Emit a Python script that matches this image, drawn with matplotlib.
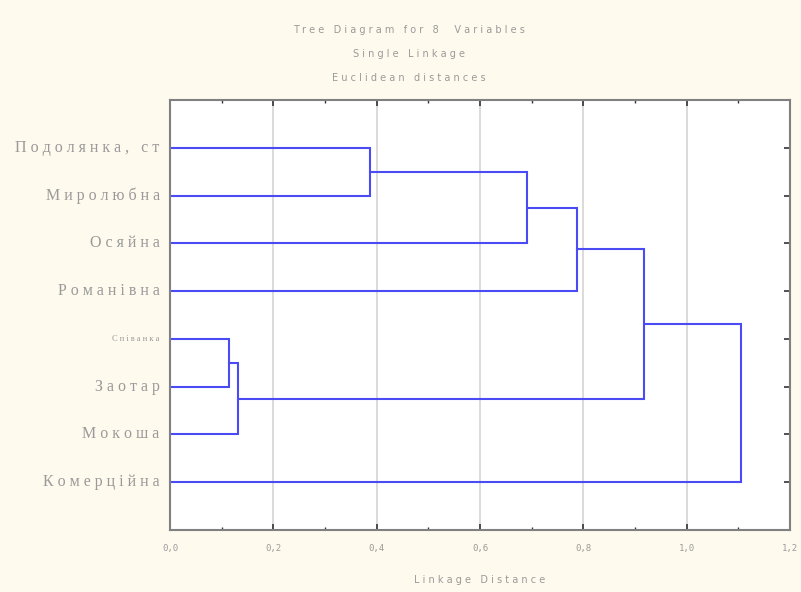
import matplotlib
matplotlib.use("Agg")
import matplotlib.pyplot as plt
from matplotlib.ticker import MultipleLocator

# leaves, top to bottom
labels = ["Подолянка, ст", "Миролюбна", "Осяйна", "Романівна",
          "Співанка", "Заотар", "Мокоша", "Комерційна"]
# merges: (cluster a, cluster b, linkage distance); new clusters numbered 8, 9, ...
merge_a = [0, 4, 8, 9, 10, 12, 13]
merge_b = [1, 5, 2, 6, 3, 11, 7]
merge_h = [0.388, 0.115, 0.692, 0.131, 0.788, 0.917, 1.106]

titles = ["Tree Diagram for 8  Variables", "Single Linkage", "Euclidean distances"]
xlabel = "Linkage Distance"


def spaced(s, sep=" "):
    return sep.join(s)


BG = "#fffaee"
BLUE = "#4b4bf5"
GREY = "#9a9a9a"

fig = plt.figure(figsize=(8.01, 5.92), dpi=100, facecolor=BG)
ax = fig.add_axes([0.2122, 0.1047, 0.7740, 0.7263])
ax.set_facecolor("white")

# cluster positions (y) and heights (x)
pos = {i: i + 1 for i in range(len(labels))}
hgt = {i: 0.0 for i in range(len(labels))}
for k, (a, b, h) in enumerate(zip(merge_a, merge_b, merge_h)):
    new = len(labels) + k
    ax.plot([hgt[a], h, h, hgt[b]], [pos[a], pos[a], pos[b], pos[b]],
            color=BLUE, lw=1.5, solid_joinstyle="miter")
    pos[new] = (pos[a] + pos[b]) / 2
    hgt[new] = h

ax.set_xlim(0, 1.2)
ax.set_ylim(9, 0)
ax.xaxis.set_major_locator(MultipleLocator(0.2))
ax.xaxis.set_minor_locator(MultipleLocator(0.1))
ax.set_yticks(range(1, len(labels) + 1))
ax.set_yticklabels([])
ax.grid(True, axis="x", color="#d4d4d4", lw=1.2)
ax.set_axisbelow(True)

for s in ax.spines.values():
    s.set_color("#808080")
    s.set_linewidth(1.5)

ax.tick_params(which="both", direction="in", top=True, right=True,
               color="#333333", labelcolor=GREY)
ax.tick_params(which="major", length=4, width=1.2)
ax.tick_params(which="minor", length=2, width=1)
ax.set_xticks([i * 0.2 for i in range(7)])
ax.set_xticklabels([f"{i * 0.2:.1f}".replace(".", ",") for i in range(7)],
                   fontsize=6.5, fontfamily="DejaVu Sans Mono")
ax.tick_params(axis="x", pad=10)

for i, lab in enumerate(labels):
    small = lab == "Співанка"
    ax.text(-0.02, i + 1, spaced(lab),
            ha="right", va="center", color=GREY,
            fontsize=6 if small else 11.5, fontfamily="Liberation Serif",
            transform=ax.transData, clip_on=False)

ax.set_xlabel(spaced(xlabel), fontsize=7, color=GREY, labelpad=16)

for j, t in enumerate(titles):
    fig.text(0.51, 1 - (30 + j * 24) / 592, spaced(t), ha="center", va="center",
             fontsize=7, color=GREY)

fig.savefig("out.png", dpi=100, facecolor=BG)
